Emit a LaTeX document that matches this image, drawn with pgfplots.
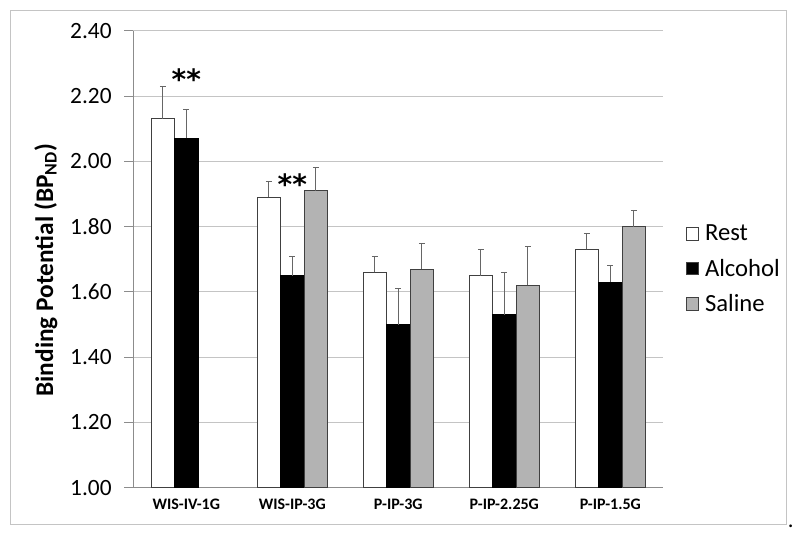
\documentclass[border=0pt]{standalone}
\usepackage{fontspec}
\setmainfont{Carlito}
\newfontfamily\astfont{DejaVu Sans}
\usepackage{pgfplots}
\pgfplotsset{compat=1.18}
\definecolor{salinegray}{HTML}{B3B3B3}
\definecolor{edgegray}{HTML}{404040}
\definecolor{axisgray}{HTML}{8C8C8C}
\definecolor{gridgray}{HTML}{C4C4C4}
\begin{document}
\begin{tikzpicture}
\path[use as bounding box] (0,0) rectangle (600pt,402.75pt);
\draw[gridgray, line width=0.75pt] (7.5pt,9.75pt) rectangle (589.5pt,394.5pt);
\node[anchor=base, inner sep=0pt, font=\fontsize{17}{20}\selectfont] at (593pt,7.5pt) {.};
\begin{axis}[
  at={(99.98pt,36.9pt)}, anchor=south west,
  scale only axis, width=397.5pt, height=342.8pt,
  xmin=-0.5, xmax=4.5, ymin=1, ymax=2.4,
  ytick={1.0,1.2,1.4,1.6,1.8,2.0,2.2,2.4},
  xtick={0,1,2,3,4},
  xticklabels={WIS-IV-1G,WIS-IP-3G,P-IP-3G,P-IP-2.25G,P-IP-1.5G},
  axis lines*=left,
  axis line style={draw=axisgray, line width=0.75pt},
  ymajorgrids, grid style={gridgray, line width=0.75pt},
  tick align=outside, major tick length=6.75pt,
  ytick style={draw=axisgray, line width=0.75pt},
  xtick style={draw=none},
  /pgf/number format/assume math mode=true,
  y tick label style={/pgf/number format/fixed, /pgf/number format/fixed zerofill, /pgf/number format/precision=2, font=\fontsize{17.5}{20}\selectfont, xshift=-6pt},
  x tick label style={font=\bfseries\fontsize{12}{14}\selectfont, yshift=2pt},
  ylabel={\textbf{Binding Potential (BP\textsubscript{ND})}},
  ylabel style={font=\fontsize{19}{22}\selectfont, at={(axis description cs:-0.165,0.476)}, anchor=center, rotate=0},
  ybar=0pt, bar width=17.6pt,
  error bars/y dir=plus, error bars/y explicit,
  error bars/error mark options={rotate=90, mark size=2.2pt, line width=0.6pt, draw=edgegray!80},
  error bars/error bar style={line width=0.6pt, draw=edgegray!80},
  legend style={draw=none, fill=none, at={(1.034,0.587)}, anchor=north west,
    font=\fontsize{18.5}{22}\selectfont, row sep=8pt},
  legend cell align=left,
  legend image code/.code={\draw[#1, draw=edgegray, line width=0.6pt] (0pt,-4.75pt) rectangle (9.5pt,4.75pt); \path (12pt,0pt);},
]
\addplot[fill=white, draw=edgegray, line width=0.6pt] coordinates {
  (0,2.13) +- (0,0.10)
  (1,1.89) +- (0,0.05)
  (2,1.66) +- (0,0.05)
  (3,1.65) +- (0,0.08)
  (4,1.73) +- (0,0.05)
};
\addplot[fill=black, draw=black, line width=0.6pt] coordinates {
  (0,2.07) +- (0,0.09)
  (1,1.65) +- (0,0.06)
  (2,1.50) +- (0,0.11)
  (3,1.53) +- (0,0.13)
  (4,1.63) +- (0,0.05)
};
\addplot[fill=salinegray, draw=edgegray, line width=0.6pt] coordinates {
  (1,1.91) +- (0,0.07)
  (2,1.67) +- (0,0.08)
  (3,1.62) +- (0,0.12)
  (4,1.80) +- (0,0.05)
};
\legend{Rest,Alcohol,Saline}
\node[font=\astfont\bfseries\fontsize{21}{24}\selectfont, inner sep=0pt, anchor=center] at (axis cs:0,2.253) {**};
\node[font=\astfont\bfseries\fontsize{21}{24}\selectfont, inner sep=0pt, anchor=center] at (axis cs:1,1.930) {**};
\end{axis}
\end{tikzpicture}
\end{document}
